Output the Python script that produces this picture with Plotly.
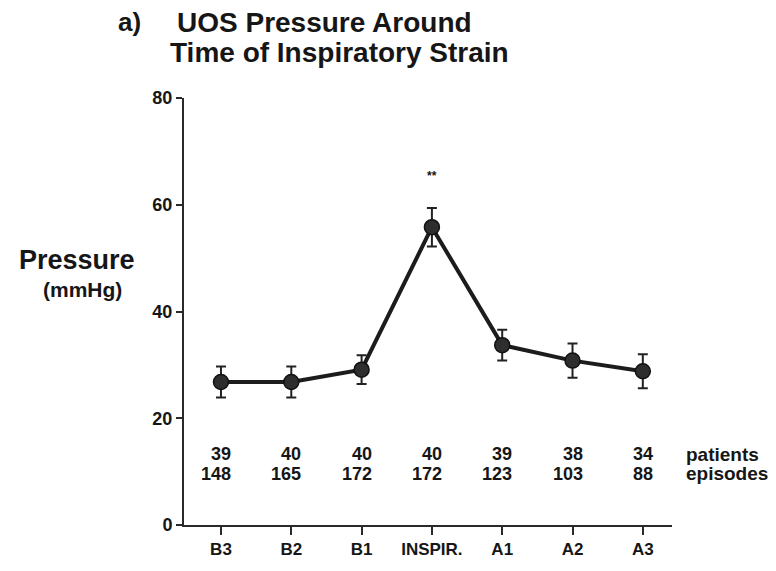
import plotly.graph_objects as go

# Time points around the inspiratory strain
phases = ["B3", "B2", "B1", "INSPIR.", "A1", "A2", "A3"]
pressure_mean = [26.8, 26.8, 29.1, 55.8, 33.7, 30.8, 28.8]   # mmHg
pressure_err = [2.9, 2.9, 2.7, 3.6, 2.9, 3.2, 3.2]          # mmHg
patients = [39, 40, 40, 40, 39, 38, 34]
episodes = [148, 165, 172, 172, 123, 103, 88]
y_ticks = [0, 20, 40, 60, 80]

FONT = "Liberation Sans, Arial, Helvetica, sans-serif"
INK = "#161616"


def bold(size):
    return dict(family=FONT, size=size, color=INK, weight="bold")


fig = go.Figure()
fig.add_trace(go.Scatter(
    x=phases,
    y=pressure_mean,
    mode="lines+markers",
    line=dict(color="#1c1c1c", width=4),
    marker=dict(size=15, color="#2e2e2e", line=dict(color="#111111", width=1.5)),
    error_y=dict(type="data", array=pressure_err, visible=True,
                 color="#222222", thickness=2, width=5),
    showlegend=False,
    hoverinfo="skip",
))

annotations = []
# counts under each time point
for ph, p, e in zip(phases, patients, episodes):
    annotations.append(dict(x=ph, y=13.3, xref="x", yref="y", text=str(p),
                            showarrow=False, xanchor="right", yanchor="middle",
                            xshift=12, font=bold(18)))
    annotations.append(dict(x=ph, y=9.6, xref="x", yref="y", text=str(e),
                            showarrow=False, xanchor="right", yanchor="middle",
                            xshift=12, font=bold(18)))
annotations += [
    dict(x=1.025, y=13.3, xref="paper", yref="y", text="patients", showarrow=False,
         xanchor="left", yanchor="middle", font=bold(19)),
    dict(x=1.025, y=9.6, xref="paper", yref="y", text="episodes", showarrow=False,
         xanchor="left", yanchor="middle", font=bold(19)),
    # significance marker at the strain point
    dict(x="INSPIR.", y=65.4, xref="x", yref="y", text="**", showarrow=False,
         xanchor="center", yanchor="middle", font=bold(12)),
    # titles
    dict(x=-0.140, y=1.1774, xref="paper", yref="paper", text="a)", showarrow=False,
         xanchor="left", yanchor="middle", font=bold(26)),
    dict(x=-0.018, y=1.1774, xref="paper", yref="paper", text="UOS Pressure Around",
         showarrow=False, xanchor="left", yanchor="middle", font=bold(28)),
    dict(x=-0.033, y=1.106, xref="paper", yref="paper", text="Time of Inspiratory Strain",
         showarrow=False, xanchor="left", yanchor="middle", font=bold(28)),
    # y axis label
    dict(x=-0.342, y=0.62, xref="paper", yref="paper", text="Pressure", showarrow=False,
         xanchor="left", yanchor="middle", font=bold(27)),
    dict(x=-0.209, y=0.551, xref="paper", yref="paper", text="(mmHg)", showarrow=False,
         xanchor="center", yanchor="middle", font=bold(21)),
]

fig.update_layout(
    width=776, height=571,
    margin=dict(l=184, r=104, t=98, b=39),
    paper_bgcolor="white", plot_bgcolor="white",
    font=dict(family=FONT, color=INK),
    annotations=annotations,
    xaxis=dict(
        type="category", categoryorder="array", categoryarray=phases,
        range=[-0.526, 6.415],
        showline=True, linecolor="#2a2a2a", linewidth=2,
        ticks="outside", ticklen=8, tickwidth=1.5, tickcolor="#2a2a2a",
        showgrid=False, zeroline=False,
        tickfont=bold(17),
    ),
    yaxis=dict(
        range=[0, 80], tickvals=y_ticks,
        showline=True, linecolor="#2a2a2a", linewidth=2,
        ticks="outside", ticklen=6, tickwidth=1.5, tickcolor="#2a2a2a",
        showgrid=False, zeroline=False,
        tickfont=bold(18),
    ),
)

fig.write_html("out.html")
